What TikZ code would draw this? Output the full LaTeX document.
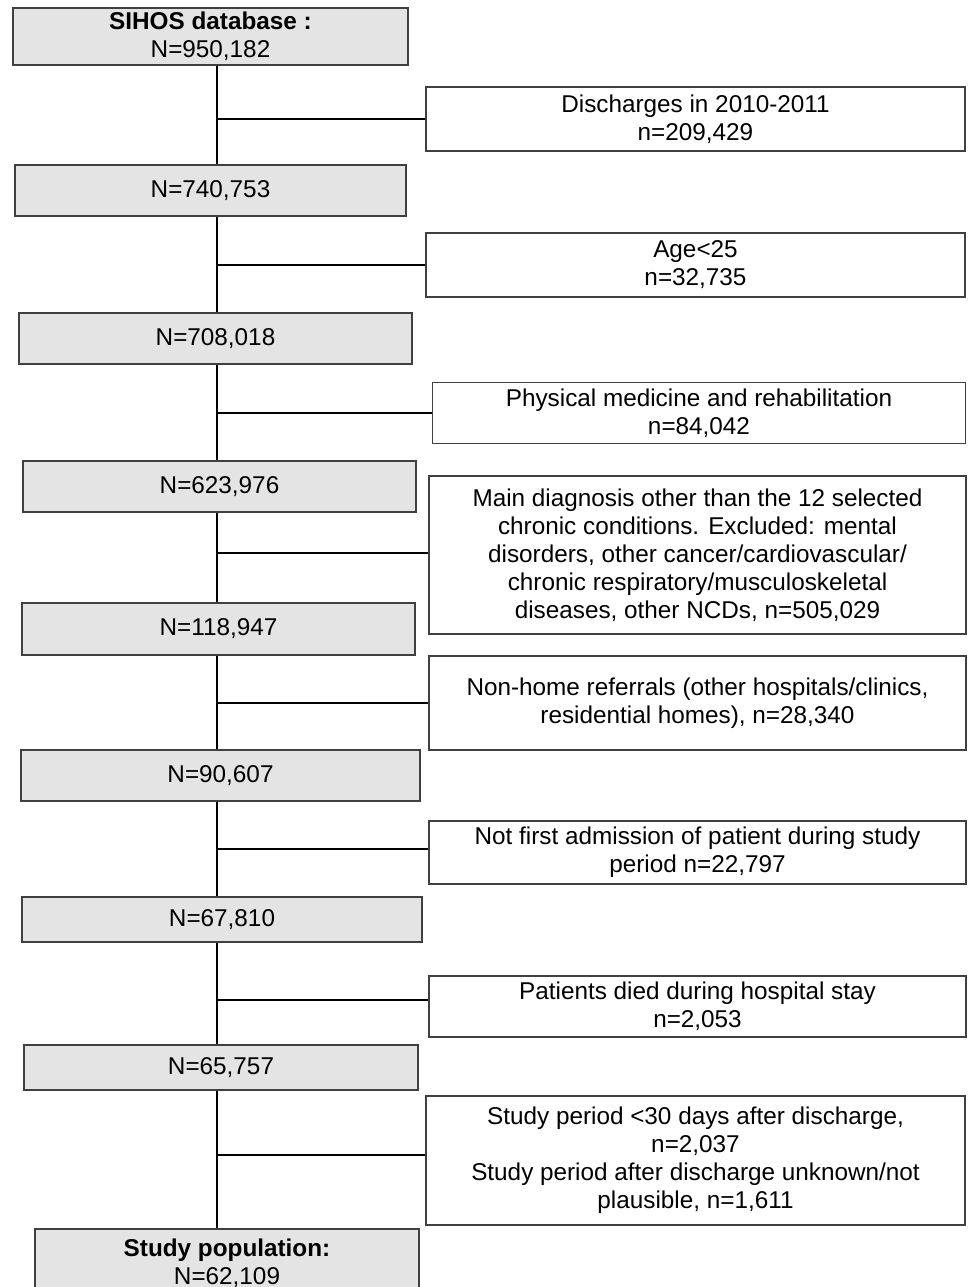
\documentclass[tikz,border=0pt]{standalone}
\usepackage{fontspec}
\setmainfont{Liberation Sans}
\usetikzlibrary{positioning}

\definecolor{boxgray}{RGB}{228,228,228}
\definecolor{edgegray}{RGB}{64,64,64}

\tikzset{
  stagebox/.style={rectangle, draw=edgegray, fill=boxgray, line width=1.3pt, align=center, inner sep=0pt},
  exclbox/.style={rectangle, draw=edgegray, fill=white, line width=1.3pt, align=center, inner sep=0pt},
  link/.style={line width=1.6pt, black}
}

\begin{document}
\begin{tikzpicture}[x=1pt, y=-1pt, font=\fontsize{24.3}{28}\selectfont]
		\useasboundingbox (0,0) rectangle (967,1287);
		\coordinate (spine) at (217,0);
		% main stages
		\node[stagebox, minimum width=395pt, minimum height=57pt] (S1) at (210.5,36.5) {\textbf{SIHOS database :}\\N=950,182};
		\node[stagebox, minimum width=391pt, minimum height=51pt] (S2) at (210.5,190.5) {N=740,753};
		\node[stagebox, minimum width=393pt, minimum height=51pt] (S3) at (215.5,338.5) {N=708,018};
		\node[stagebox, minimum width=393pt, minimum height=51pt] (S4) at (219.5,486.5) {N=623,976};
		\node[stagebox, minimum width=393pt, minimum height=52pt] (S5) at (218.5,629) {N=118,947};
		\node[stagebox, minimum width=399pt, minimum height=51pt] (S6) at (220.5,775.5) {N=90,607};
		\node[stagebox, minimum width=400pt, minimum height=45pt] (S7) at (222,919.5) {N=67,810};
		\node[stagebox, minimum width=394pt, minimum height=45pt] (S8) at (221,1067.5) {N=65,757};
		\node[stagebox, minimum width=384pt, minimum height=68pt] (S9) at (227,1263) {\textbf{Study population:}\\N=62,109};
		% exclusions
		\node[exclbox, minimum width=539pt, minimum height=64pt] (E1) at (695.5,119) {Discharges in 2010-2011\\n=209,429};
		\node[exclbox, minimum width=539pt, minimum height=64pt] (E2) at (695.5,265) {Age<25\\n=32,735};
		\node[exclbox, minimum width=533pt, minimum height=61pt] (E3) at (699,413) {Physical medicine and rehabilitation\\n=84,042};
		\node[exclbox, minimum width=537pt, minimum height=158pt] (E4) at (697.5,555) {Main diagnosis other than the 12 selected\\chronic conditions. Excluded: mental\\disorders, other cancer/cardiovascular/\\chronic respiratory/musculoskeletal\\diseases, other NCDs, n=505,029};
		\node[exclbox, minimum width=537pt, minimum height=94pt] (E5) at (697.5,703) {Non-home referrals (other hospitals/clinics,\\residential homes), n=28,340};
		\node[exclbox, minimum width=537pt, minimum height=63pt] (E6) at (697.5,852.5) {Not first admission of patient during study\\period n=22,797};
		\node[exclbox, minimum width=537pt, minimum height=61pt] (E7) at (697.5,1006.5) {Patients died during hospital stay\\n=2,053};
		\node[exclbox, minimum width=539pt, minimum height=129pt] (E8) at (695.5,1160.5) {Study period <30 days after discharge,\\n=2,037\\Study period  after discharge unknown/not\\plausible, n=1,611};
		% spine and branches
		\foreach \a/\b in {S1/S2, S2/S3, S3/S4, S4/S5, S5/S6, S6/S7, S7/S8, S8/S9}
			\draw[link] (\a.south -| spine) -- (\b.north -| spine);
		\foreach \e in {E1, E2, E3, E5}
			\draw[link] (\e.west -| spine) -- (\e.west);
		\draw[link] (0,553 -| spine) -- (0,553 -| E4.west);
		\draw[link] (0,849 -| spine) -- (0,849 -| E6.west);
		\draw[link] (0,1000 -| spine) -- (0,1000 -| E7.west);
		\draw[link] (0,1155 -| spine) -- (0,1155 -| E8.west);
\end{tikzpicture}
\end{document}
